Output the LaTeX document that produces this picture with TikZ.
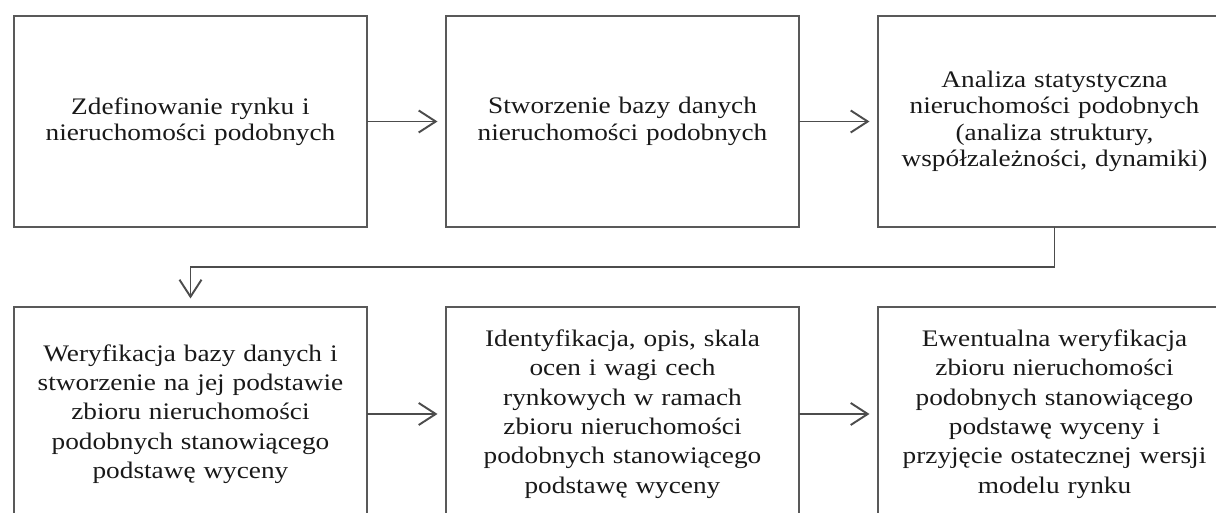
\documentclass[tikz,border=0pt]{standalone}
\usepackage{fontspec}
\setmainfont[FakeStretch=1.15]{Liberation Serif}
\usetikzlibrary{positioning,arrows.meta}
\begin{document}
\begin{tikzpicture}[node distance={15.8mm}, line width=1.1pt,
  main/.style = {draw=black!65, rectangle, minimum width=70.6mm, minimum height=42.2mm, inner sep=0pt, outer sep=0pt, text width=68mm, align=center, text=black!90, font=\fontsize{13.5}{15}\selectfont},
  low/.style = {main, minimum height=42.8mm, font=\fontsize{13.5}{16.7}\selectfont},
  arr/.style = {-{Straight Barb[length=3.4mm,width=4.4mm]}, draw=black!70, shorten >=1.7mm}]
\useasboundingbox (-3.81,2.43) rectangle (20.51,-7.83);
\node[main] (1) {Zdefinowanie rynku i\\ nieruchomości podobnych};
\node[main] (2) [right=of 1] {Stworzenie bazy danych\\ nieruchomości podobnych};
\node[main] (3) [right=of 2] {Analiza statystyczna\\ nieruchomości podobnych\\ (analiza struktury,\\ współzależności, dynamiki)};
\node[low] (4) [below=16mm of 1] {Weryfikacja bazy danych i\\ stworzenie na jej podstawie\\ zbioru nieruchomości\\ podobnych stanowiącego\\ podstawę wyceny};
\node[low] (5) [right=of 4] {Identyfikacja, opis, skala\\ ocen i wagi cech\\ rynkowych w ramach\\ zbioru nieruchomości\\ podobnych stanowiącego\\ podstawę wyceny};
\node[low] (6) [right=of 5] {Ewentualna weryfikacja\\ zbioru nieruchomości\\ podobnych stanowiącego\\ podstawę wyceny i\\ przyjęcie ostatecznej wersji\\ modelu rynku};
\draw[arr] (1) -- (2);
\draw[arr] (2) -- (3);
\draw[arr] (3.south) -- ++(0,-8mm) -| (4.north);
\draw[arr] (4) -- (5);
\draw[arr] (5) -- (6);
\end{tikzpicture}
\end{document}
